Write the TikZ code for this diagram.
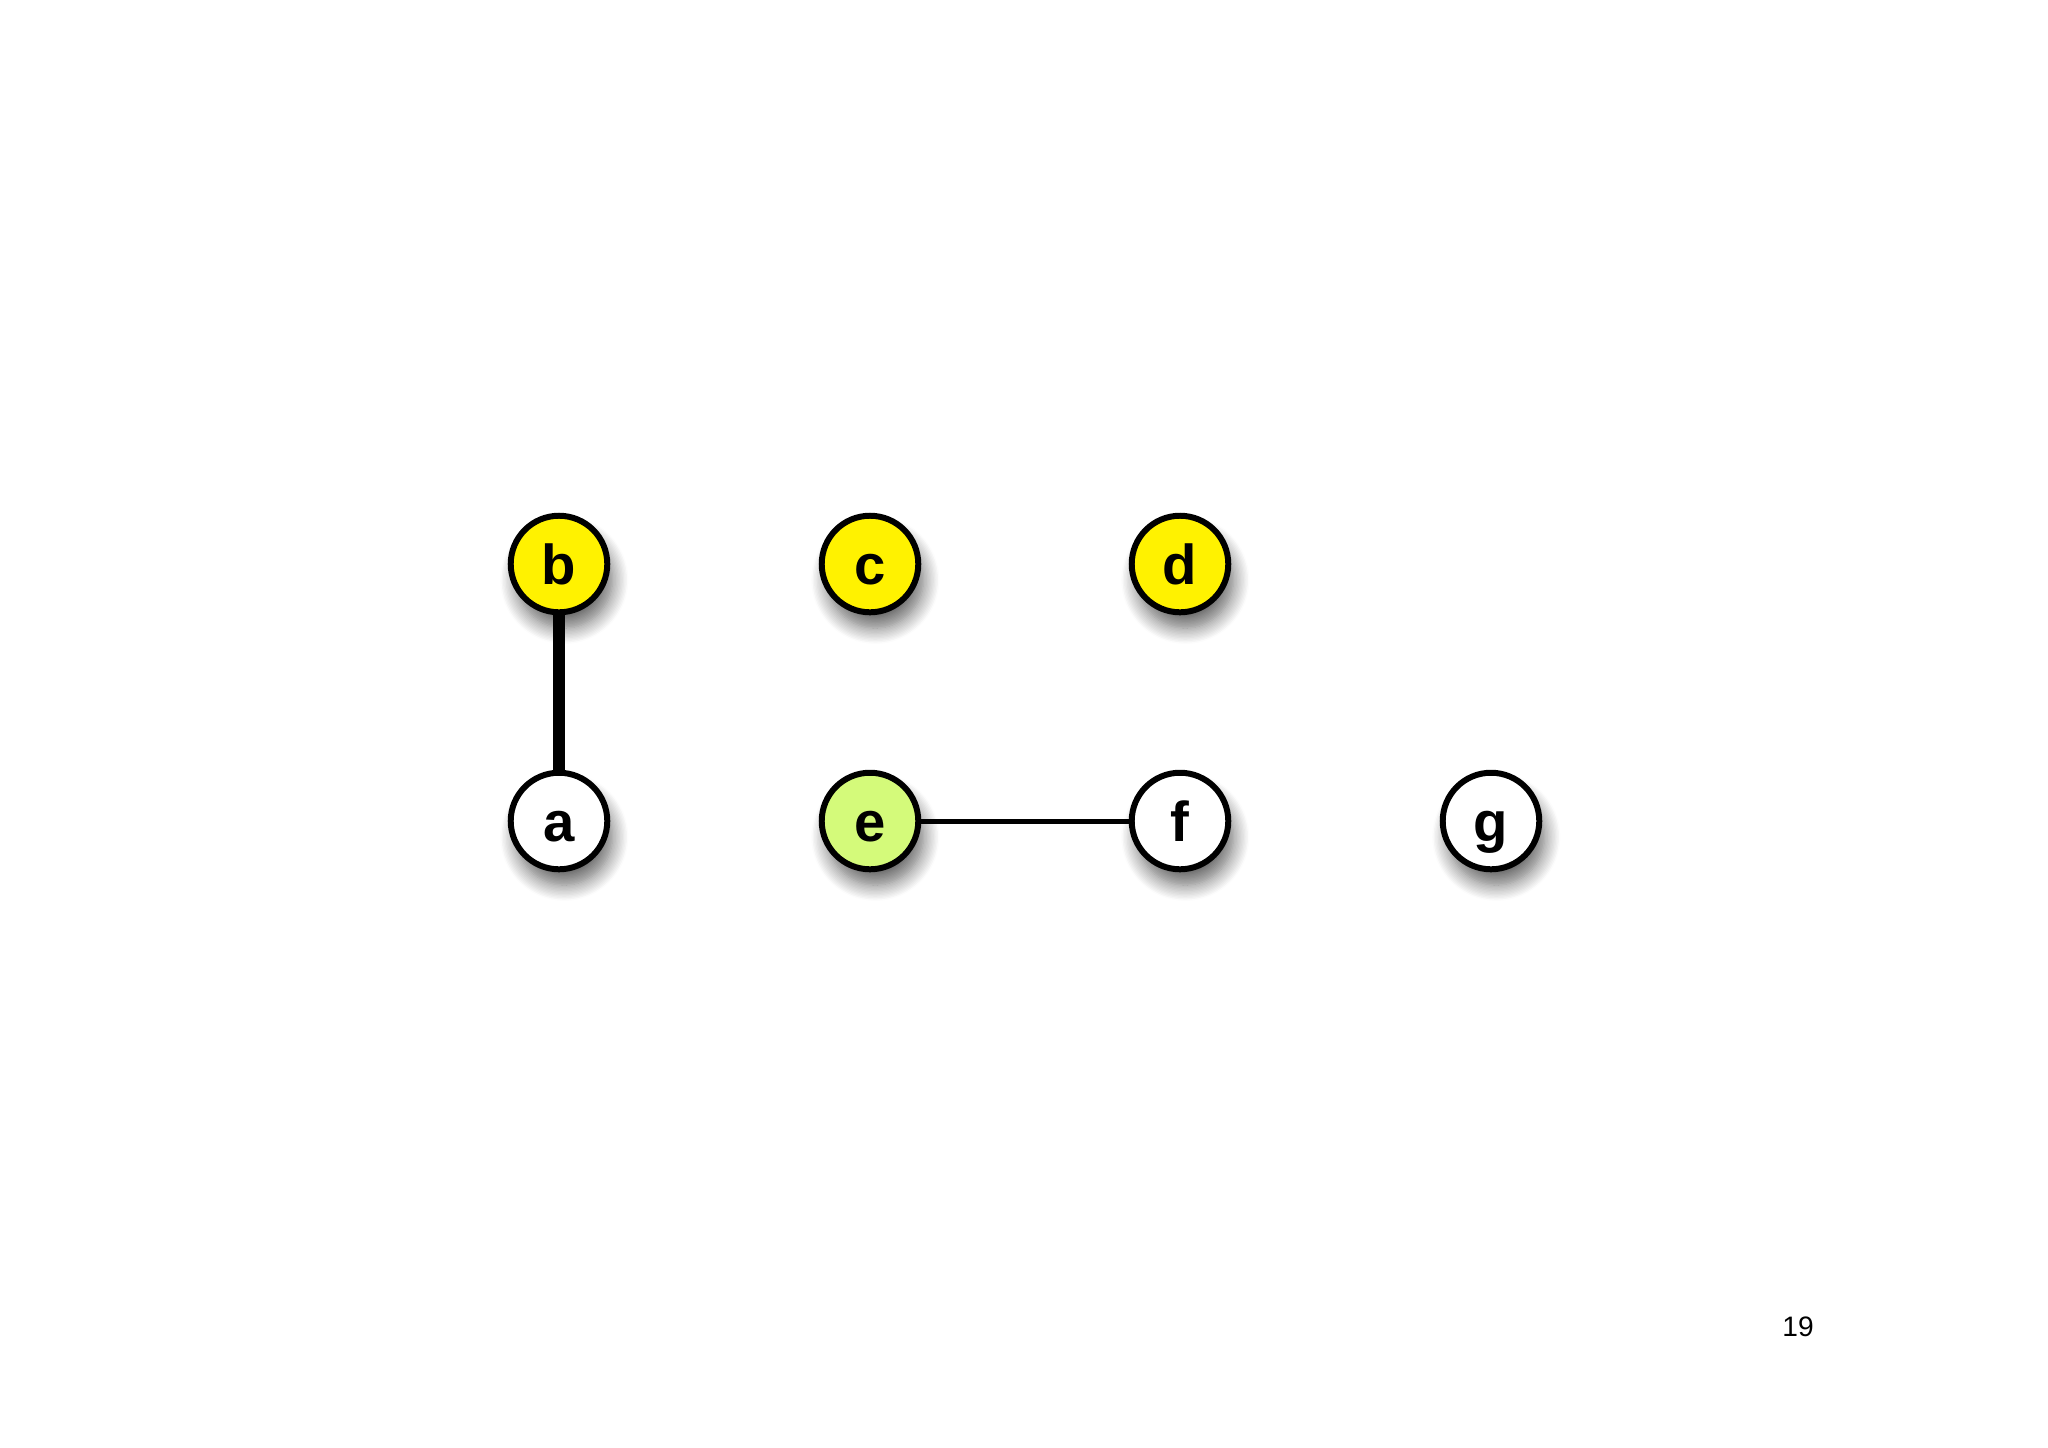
\documentclass[tikz,border=0pt]{standalone}
\usepackage{fontspec}
\setmainfont{Liberation Sans}
\usetikzlibrary{shadows.blur}

\definecolor{egreen}{RGB}{212,250,122}

\begin{document}
\begin{tikzpicture}[x=0.01cm, y=-0.01cm,
    vertex/.style={circle, draw, line width=1.7pt, minimum size=0.965cm, inner sep=0pt,
        text height=11.8pt, text depth=0pt, font=\bfseries\fontsize{16}{16}\selectfont,
        blur shadow={shadow xshift=1.5pt, shadow yshift=-4.5pt, shadow blur steps=12,
            shadow blur radius=4.5pt, shadow opacity=60}}]
    \useasboundingbox (0,0) rectangle (2048,1447);

    \foreach \name/\x/\y/\col in {b/559/564/yellow, c/870/564/yellow, d/1180/564/yellow,
            a/559/821/white, e/870/821/egreen, f/1180/821/white, g/1491/821/white}
        \node[vertex, fill=\col] (\name) at (\x, \y) {\name};

    \draw[line width=0.12cm] (b) -- (a);
    \draw[line width=0.05cm] (e) -- (f);

    \node (pagenum) at (1798, 1327) {\fontsize{8}{8}\selectfont 19};
\end{tikzpicture}
\end{document}
